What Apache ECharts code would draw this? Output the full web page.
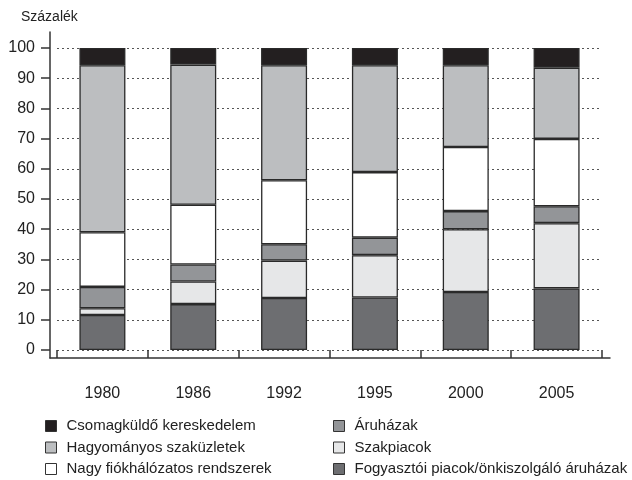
<!DOCTYPE html>
<html>
<head>
<meta charset="utf-8">
<script src="https://cdn.jsdelivr.net/npm/echarts@6/dist/echarts.min.js"></script>
<style>
	html, body { margin: 0; padding: 0; background: #fff; }
	#chart { width: 632px; height: 480px; }
</style>
</head>
<body>
<div id="chart"></div>
<script>
// kategóriák (évek)
var years = ['1980', '1986', '1992', '1995', '2000', '2005'];

// sorozatok, alulról felfelé halmozva (százalék)
var fogyasztoi = [11.6, 15.2, 17.2, 17.4, 19.2, 20.4];
var szakpiacok = [2.2, 7.5, 12.4, 14.0, 20.8, 21.6];
var aruhazak = [7.1, 5.6, 5.4, 5.8, 6.0, 5.6];
var nagyFiok = [18.1, 19.8, 21.2, 21.7, 21.2, 22.3];
var hagyomanyos = [55.3, 46.4, 38.1, 35.4, 27.1, 23.6];
var csomag = [5.7, 5.5, 5.7, 5.7, 5.7, 6.5];

var names = {
	fogy: 'Fogyasztói piacok/önkiszolgáló áruházak',
	szak: 'Szakpiacok',
	aru: 'Áruházak',
	nagy: 'Nagy fiókhálózatos rendszerek',
	hagy: 'Hagyományos szaküzletek',
	csom: 'Csomagküldő kereskedelem'
};

var axisFont = 'Liberation Sans, Arial, sans-serif';
var lineColor = '#333';

function bar(name, data, color) {
	return {
		name: name,
		type: 'bar',
		stack: 'total',
		xAxisIndex: 0,
		yAxisIndex: 0,
		barWidth: 46,
		data: data,
		itemStyle: {
			color: color,
			borderColor: '#2a2a2a',
			borderWidth: 1.3
		}
	};
}

var legendBase = {
	orient: 'vertical',
	top: 418,
	height: 90,
	padding: 0,
	icon: 'rect',
	itemWidth: 11,
	itemHeight: 11,
	itemGap: 5.5,
	selectedMode: false,
	itemStyle: { borderColor: '#333', borderWidth: 1 },
	textStyle: { fontFamily: axisFont, fontSize: 15, color: '#222', lineHeight: 16, padding: [0, 0, 0, 5] }
};

var option = {
	animation: false,
	title: {
		text: 'Százalék',
		left: 21,
		top: 10,
		padding: 0,
		textStyle: { fontFamily: axisFont, fontSize: 14, fontWeight: 'normal', color: '#222' }
	},
	legend: [
		Object.assign({}, legendBase, { left: 45, data: [names.csom, names.hagy, names.nagy] }),
		Object.assign({}, legendBase, { left: 333, data: [names.aru, names.szak, names.fogy] })
	],
	grid: [
		{ left: 57, right: 30, top: 48, bottom: 130 },
		// csak a tengelyvonalakhoz
		{ left: 50, right: 22, top: 32, bottom: 122 }
	],
	xAxis: [
		{
			type: 'category',
			gridIndex: 0,
			data: years,
			offset: 8,
			axisLine: { show: false },
			axisTick: { show: true, length: 8, lineStyle: { color: lineColor, width: 1.5 } },
			axisLabel: { margin: 28, fontFamily: axisFont, fontSize: 16, color: '#222' }
		},
		{
			type: 'value',
			gridIndex: 1,
			min: 0,
			max: 1,
			axisLine: { show: true, lineStyle: { color: lineColor, width: 1.5 } },
			axisTick: { show: false },
			axisLabel: { show: false },
			splitLine: { show: false }
		}
	],
	yAxis: [
		{
			type: 'value',
			gridIndex: 0,
			min: 0,
			max: 100,
			interval: 10,
			offset: 7,
			axisLine: { show: false },
			axisTick: { show: true, length: 9, lineStyle: { color: lineColor, width: 1.5 } },
			axisLabel: { margin: 15, fontFamily: axisFont, fontSize: 16, color: '#222' },
			splitLine: { show: true, lineStyle: { color: '#555', type: [2, 3], width: 1 } }
		},
		{
			type: 'value',
			gridIndex: 1,
			min: 0,
			max: 1,
			axisLine: { show: true, lineStyle: { color: lineColor, width: 1.5 } },
			axisTick: { show: false },
			axisLabel: { show: false },
			splitLine: { show: false }
		}
	],
	series: [
		bar(names.fogy, fogyasztoi, '#6d6e71'),
		bar(names.szak, szakpiacok, '#e6e7e8'),
		bar(names.aru, aruhazak, '#939598'),
		bar(names.nagy, nagyFiok, '#ffffff'),
		bar(names.hagy, hagyomanyos, '#bcbec0'),
		bar(names.csom, csomag, '#231f20')
	]
};

var myChart = echarts.init(document.getElementById('chart'), null, { renderer: 'canvas' });
myChart.setOption(option);
</script>
</body>
</html>
